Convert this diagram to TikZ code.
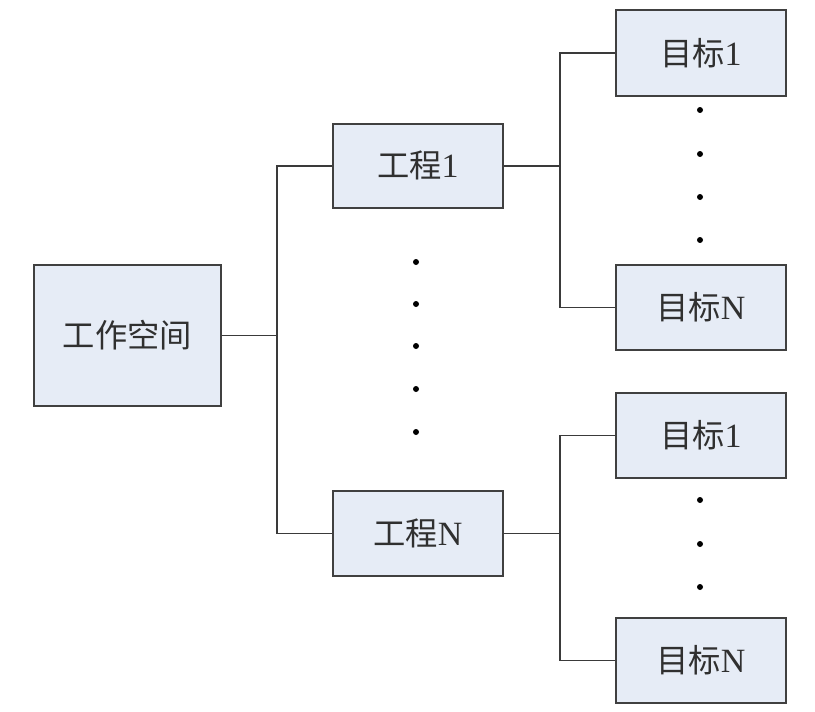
\documentclass[tikz,border=0pt]{standalone}
\usepackage{fontspec}
\setmainfont{Liberation Serif}
\newfontfamily\cjk{Noto Sans CJK SC}[Scale=0.95]
\definecolor{boxfill}{HTML}{E6ECF6}
\definecolor{boxline}{HTML}{404040}
\definecolor{txt}{HTML}{303030}
\begin{document}
\begin{tikzpicture}[x=1pt,y=-1pt,
  box/.style={draw=boxline,line width=1.8pt,fill=boxfill,inner sep=0pt,anchor=north west,text=txt,font=\fontsize{34}{38}\selectfont},
  conn/.style={draw=boxline!90!black,line width=1.4pt},
  dotmark/.style={circle,fill=black,inner sep=0pt,minimum size=6pt}]
\useasboundingbox (0,0) rectangle (815,712);
\node[box,minimum width=187pt,minimum height=141pt] (ws) at (33,264) {\cjk 工作空间};
\node[box,minimum width=170pt,minimum height=84pt] (p1) at (332,123) {{\cjk 工程}1};
\node[box,minimum width=170pt,minimum height=85pt] (pn) at (332,490) {{\cjk 工程}N};
\node[box,minimum width=170pt,minimum height=86pt] (t11) at (615,9) {{\cjk 目标}1};
\node[box,minimum width=170pt,minimum height=85pt] (t1n) at (615,264) {{\cjk 目标}N};
\node[box,minimum width=170pt,minimum height=85pt] (t21) at (615,392) {{\cjk 目标}1};
\node[box,minimum width=170pt,minimum height=85pt] (t2n) at (615,617) {{\cjk 目标}N};
\coordinate (b0) at (277,0);
\coordinate (b1) at (560,0);
\draw[conn] (ws.east) -- (ws.east -| b0);
\draw[conn] (p1.west) -- (p1.west -| b0) |- (pn.west);
\draw[conn] (p1.east) -- (p1.east -| b1);
\draw[conn] (t11.west) -- (t11.west -| b1) |- (t1n.west);
\draw[conn] (pn.east) -- (pn.east -| b1);
\draw[conn] (t21.west) -- (t21.west -| b1) |- (t2n.west);
\foreach \y [count=\i] in {262,304,346,389,432} \node[dotmark] (md\i) at (416,\y) {};
\foreach \y [count=\i] in {110,154,197,240} \node[dotmark] (ud\i) at (700,\y) {};
\foreach \y [count=\i] in {500,544,587} \node[dotmark] (ld\i) at (700,\y) {};
\end{tikzpicture}
\end{document}
